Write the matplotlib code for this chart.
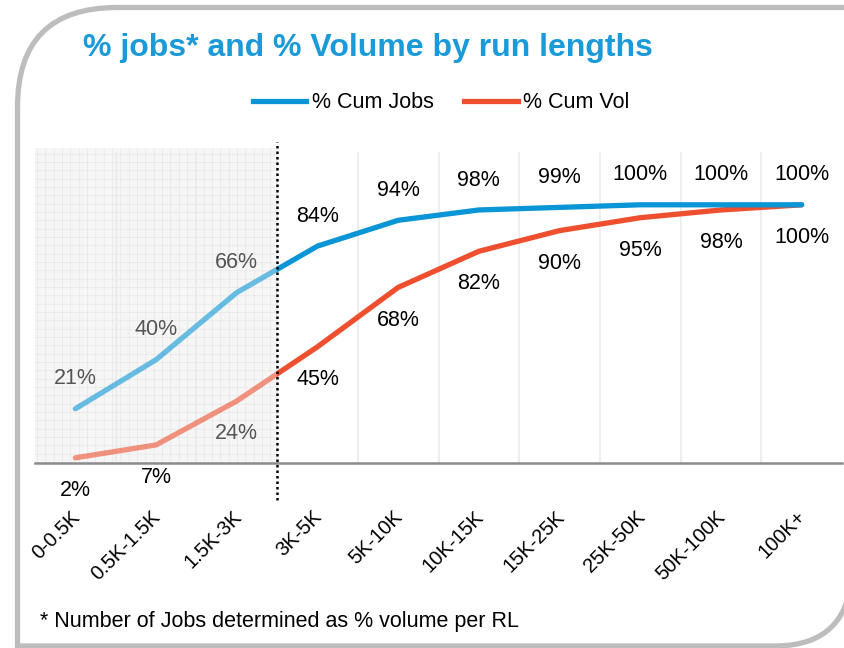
import numpy as np
import matplotlib
matplotlib.use('Agg')
import matplotlib.pyplot as plt
from matplotlib.path import Path
from matplotlib.patches import PathPatch, Rectangle
from matplotlib.lines import Line2D
import matplotlib.transforms as mtrans

plt.rcParams['font.family'] = ['Liberation Sans', 'DejaVu Sans']
plt.rcParams['hatch.linewidth'] = 0.4

# data
categories = ['0-0.5K', '0.5K-1.5K', '1.5K-3K', '3K-5K', '5K-10K', '10K-15K',
              '15K-25K', '25K-50K', '50K-100K', '100K+']
cumJobs = [21, 40, 66, 84, 94, 98, 99, 100, 100, 100]
cumVol = [2, 7, 24, 45, 68, 82, 90, 95, 98, 100]
nShaded = 3

blue = '#0A96D6'
orange = '#EE4F2F'

W, H = 844, 648
fig = plt.figure(figsize=(W / 100., H / 100.), dpi=100)

# slide frame (rounded top-left and bottom-right corners)
def px(x, y):
    return (x / W, 1. - y / H)

verts = [px(860, 7.5), px(117, 7.5), px(17.5, 7.5), px(17.5, 107),
         px(17.5, 646), px(775, 646), px(852, 646), px(852, 565)]
codes = [Path.MOVETO, Path.LINETO, Path.CURVE3, Path.CURVE3,
         Path.LINETO, Path.LINETO, Path.CURVE3, Path.CURVE3]
fig.patches.append(PathPatch(Path(verts, codes), transform=fig.transFigure,
                             fill=False, edgecolor='#BDBDBD', lw=3.8))

fig.text(83. / W, 1 - 56. / H, '% jobs* and % Volume by run lengths', color='#1A9AD8',
         fontsize=23, fontweight='bold', va='baseline', ha='left')
fig.text(40. / W, 1 - 627. / H, '* Number of Jobs determined as % volume per RL',
         fontsize=15.5, va='baseline', ha='left')

ax = fig.add_axes([35. / W, 1 - 463. / H, 807. / W, (463. - 148.) / H])
x = np.arange(len(categories))
ax.set_xlim(-0.5, len(categories) - 0.5)
ax.set_ylim(0, 122)

# shaded, gridded area on the left
ax.add_patch(Rectangle((-0.5, 0), nShaded, 122, facecolor='#F6F6F6', edgecolor='#E4E4E4',
                       hatch='++', lw=0, zorder=0))
for b in np.arange(0.5, len(categories) - 0.5, 1.0):
    ax.axvline(b, ymax=120. / 122, color='#EBEBEB', lw=1.2, zorder=0.5)

leftClip = Rectangle((-1, -50), nShaded - 0.5 + 1, 300, transform=ax.transData)
rightClip = Rectangle((nShaded - 0.5, -50), 20, 300, transform=ax.transData)

for vals, col in [(cumVol, orange), (cumJobs, blue)]:
    l1, = ax.plot(x, vals, color=col, lw=3.8, alpha=0.6, solid_capstyle='round', zorder=2)
    l1.set_clip_path(leftClip)
    l2, = ax.plot(x, vals, color=col, lw=3.8, solid_capstyle='round', zorder=3)
    l2.set_clip_path(rightClip)

for i in range(len(categories)):
    c = '#555555' if i < nShaded else 'black'
    ax.annotate('%d%%' % cumJobs[i], (x[i], cumJobs[i]), xytext=(0, 21.5),
                textcoords='offset points', ha='center', va='center', fontsize=15.5, color=c)
    # labels below the axis line sit outside the shaded box -> black
    cv = 'black' if cumVol[i] < 10 else c
    ax.annotate('%d%%' % cumVol[i], (x[i], cumVol[i]), xytext=(0, -23.5),
                textcoords='offset points', ha='center', va='center', fontsize=15.5, color=cv)

# dotted divider
ax.plot([nShaded - 0.5] * 2, [-14.5, 124.5], color='black', lw=1.8,
        linestyle=(0, (1, 1.2)), clip_on=False, zorder=4)

for s in ['top', 'left', 'right']:
    ax.spines[s].set_visible(False)
ax.spines['bottom'].set_color('#8C8C8C')
ax.spines['bottom'].set_linewidth(1.8)
ax.set_yticks([])
ax.set_xticks(x)
ax.set_xticklabels(categories, rotation=45, ha='right', va='top', rotation_mode='anchor',
                   fontsize=14.5)
ax.tick_params(axis='x', length=0, pad=32)
off = mtrans.ScaledTranslation(-5. / 100, 0, fig.dpi_scale_trans)
for lab in ax.get_xticklabels():
    lab.set_transform(lab.get_transform() + off)

handles = [Line2D([], [], color=blue, lw=3.8), Line2D([], [], color=orange, lw=3.8)]
fig.legend(handles, ['% Cum Jobs', '% Cum Vol'], loc='center', bbox_to_anchor=(441. / W, 1 - 103. / H),
           ncol=2, frameon=False, fontsize=15.5, handlelength=2.5, handletextpad=0.25,
           columnspacing=1.4)

plt.savefig('out.png', dpi=100)
